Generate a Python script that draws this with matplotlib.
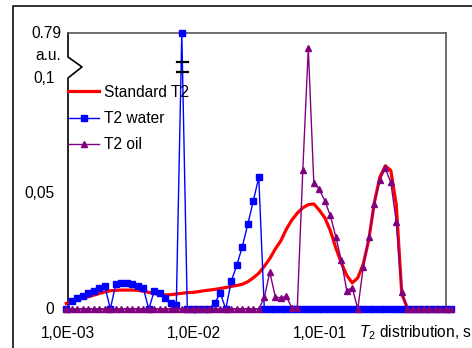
import numpy as np
import matplotlib
matplotlib.use("Agg")
import matplotlib.pyplot as plt
from matplotlib.lines import Line2D

plt.rcParams['font.family'] = ['Liberation Sans', 'DejaVu Sans']
plt.rcParams['mathtext.fontset'] = 'custom'
plt.rcParams['mathtext.rm'] = 'Liberation Sans'
plt.rcParams['mathtext.it'] = 'Liberation Sans:italic'

# T2 grid (log spaced), 71 points
t2 = np.logspace(-3.0135, -3.0135 + 70 * 0.04365, 71)

standard = [0.0024, 0.0032, 0.0040, 0.0047, 0.0053, 0.0060, 0.0067, 0.0074, 0.0079, 0.0081,
            0.0082, 0.0082, 0.0082, 0.0081, 0.0077, 0.0072, 0.0067, 0.0063, 0.0061, 0.0062,
            0.0065, 0.0068, 0.0071, 0.0072, 0.0075, 0.0079, 0.0082, 0.0085, 0.0089, 0.0093,
            0.0098, 0.0102, 0.0107, 0.0118, 0.0135, 0.0155, 0.0185, 0.0218, 0.0260, 0.0295,
            0.0345, 0.0385, 0.0415, 0.0438, 0.0452, 0.0455, 0.0428, 0.0395, 0.0340, 0.0265,
            0.0200, 0.0145, 0.0113, 0.0135, 0.0195, 0.0300, 0.0460, 0.0570, 0.0620, 0.0600,
            0.0450, 0.0065, 0.0005, 0, 0, 0, 0, 0, 0, 0, 0]

water = [0, 0.0036, 0.0046, 0.0058, 0.0068, 0.0079, 0.0090, 0.0101, 0, 0.0107,
         0.0114, 0.0111, 0.0107, 0.0100, 0.0090, 0, 0.0078, 0.0068, 0.0046, 0.0027,
         0.0016, 0.79, 0, 0, 0, 0, 0, 0.0027, 0.0068, 0,
         0.0121, 0.0189, 0.0270, 0.0367, 0.0468, 0.0570, 0, 0, 0, 0,
         0, 0, 0, 0, 0, 0, 0, 0, 0, 0,
         0, 0, 0, 0, 0, 0, 0, 0, 0, 0,
         0, 0, 0, 0, 0, 0, 0, 0, 0, 0, 0]

oil = [0] * 36 + [0.0050, 0.0160, 0.0053, 0.0047, 0.0056, 0.0005, 0.0005, 0.0600, 0.56, 0.0547,
                  0.0518, 0.0469, 0.0405, 0.0313, 0.0210, 0.0080, 0.0092, 0, 0.0183, 0.0310,
                  0.0453, 0.0558, 0.0609, 0.0548, 0.0378, 0.0072, 0, 0, 0, 0,
                  0, 0, 0, 0, 0]

xticks = [1e-3, 1e-2, 1e-1, 1]
xticklabels = ['1,0E-03', '1,0E-02', '1,0E-01', '']
ytick_vals = [0, 0.05, 0.1, 0.79]
ytick_labels = ['0', '0,05', '0,1', '0.79']

# broken y axis: linear up to 0.1, compressed above
BRK = 0.1
K = 0.0195 / 0.69


def fwd(v):
    v = np.asarray(v, dtype=float)
    return np.where(v <= BRK, v, BRK + (v - BRK) * K)


def inv(u):
    u = np.asarray(u, dtype=float)
    return np.where(u <= BRK, u, BRK + (u - BRK) / K)


W, H = 472, 348
fig = plt.figure(figsize=(W / 100, H / 100), dpi=100)
ax = fig.add_axes([68 / W, 1 - 309 / H, 378 / W, 276 / H])
ax.set_xscale('log')
ax.set_yscale('function', functions=(fwd, inv))
ax.set_xlim(1e-3, 1)
ax.set_ylim(0, 0.79)

fs = 11.2
ax.plot(t2, standard, color='#ff0000', lw=2.3, clip_on=False, label='Standard T2', zorder=3)
ax.plot(t2, water, color='#0000ff', lw=1.0, marker='s', ms=3.7, clip_on=False,
        label='T2 water', zorder=4)
ax.plot(t2, oil, color='#800080', lw=1.0, marker='^', ms=4.8, clip_on=False,
        label='T2 oil', zorder=5)

ax.set_xticks(xticks)
ax.set_xticklabels(xticklabels, fontsize=fs)
ax.xaxis.set_minor_locator(matplotlib.ticker.NullLocator())
ax.tick_params(axis='x', direction='out', length=3, width=0.8, pad=9.5, color='#444444')
ax.set_yticks([])
ax.yaxis.set_minor_locator(matplotlib.ticker.NullLocator())

for s in ['top', 'right', 'bottom']:
    ax.spines[s].set_color('#555555')
    ax.spines[s].set_linewidth(1.2)
ax.spines['left'].set_visible(False)

# left axis with break
ax.add_line(Line2D([0, 0, 0.037, 0, 0], [1, 0.913, 0.877, 0.837, 0],
                   transform=ax.transAxes, color='black', lw=1.2, clip_on=False))
# break marks on the water spike
for yb in (0.895, 0.859):
    ax.add_line(Line2D([0.288, 0.317], [yb, yb], transform=ax.transAxes,
                       color='black', lw=1.6, zorder=6))

ytr = ax.get_yaxis_transform()
for v, lab in zip(ytick_vals, ytick_labels):
    xo = -0.018 if v == 0.79 else -0.036
    ax.text(xo, v, lab, transform=ytr, ha='right', va='center', fontsize=fs)
ax.text(-0.018, 0.918, 'a.u.', transform=ax.transAxes, ha='right', va='center', fontsize=fs)

ax.text(359 / W, 1 - 333 / H, r'$T_2$ distribution, s', transform=fig.transFigure,
        ha='left', va='center', fontsize=fs)

ax.legend(loc='upper left', bbox_to_anchor=(0.0, 0.812), frameon=False, fontsize=fs,
          handlelength=2.0, handletextpad=0.3, labelspacing=0.72, borderpad=0,
          borderaxespad=0)

# outer chart frame
fig.add_artist(Line2D([13 / W, 13 / W, 1.0], [0, 1 - 6 / H, 1 - 6 / H],
                      transform=fig.transFigure, color='#222222', lw=1.3))

fig.savefig('out.png', dpi=100)
